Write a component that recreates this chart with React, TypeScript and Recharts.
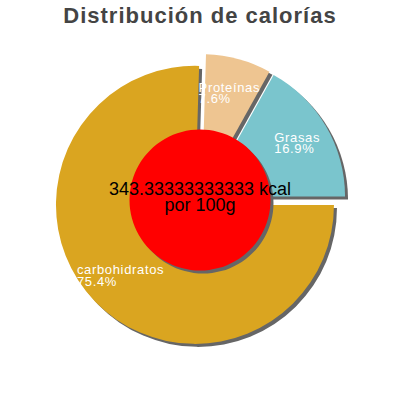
import React from 'react';
import { PieChart, Pie, Cell } from 'recharts';

const title = 'Distribución de calorías';
const categories = ['Grasas', 'Proteínas', 'carbohidratos'];
const shares = [16.9, 7.6, 75.4];
const colors = ['#7AC5CD', '#EEC591', '#DAA520'];
const kcalValue = 343.33333333333;
const centerLines = ['343.33333333333 kcal', 'por 100g'];

const EXPLODE = 7;
const SHADOW = 'drop-shadow(3px 3px 0px #666666)';
const FONT = '"Liberation Sans", Arial, sans-serif';

const data = categories.map((name, i) => ({ name, value: shares[i] }));
const centerData = [{ name: 'kcal', value: kcalValue }];

const total = shares.reduce((a, b) => a + b, 0);
const offsets = (() => {
  let cum = 0;
  return shares.map((v) => {
    const mid = ((cum + v / 2) / total) * 2 * Math.PI;
    cum += v;
    return { dx: EXPLODE * Math.cos(mid), dy: -EXPLODE * Math.sin(mid) };
  });
})();

const renderSliceLabel = (props: any) => {
  const { cx, cy, midAngle, outerRadius, name, value } = props;
  const rad = (midAngle * Math.PI) / 180;
  const r = outerRadius * 0.74 + EXPLODE;
  const ax = cx + r * Math.cos(rad);
  const ay = cy - r * Math.sin(rad);
  const w = String(name).length * 6.8;
  const x0 = ax - w / 2;
  return (
    <text
      x={x0}
      y={ay - 2.5}
      fill="#ffffff"
      fontSize={13}
      fontFamily={FONT}
      letterSpacing={0.65}
      textAnchor="start"
    >
      <tspan x={x0}>{name}</tspan>
      <tspan x={x0} dy={11.5}>{Number(value).toFixed(1)}%</tspan>
    </text>
  );
};

const renderCenterLabel = (props: any) => {
  const { cx, cy } = props;
  return (
    <text x={cx} y={cy - 5} fill="#000000" fontSize={18} fontFamily={FONT} textAnchor="middle">
      <tspan x={cx}>{centerLines[0]}</tspan>
      <tspan x={cx} dy={16}>{centerLines[1]}</tspan>
    </text>
  );
};

export default function App() {
  return (
    <div style={{ position: 'absolute', left: 0, top: 0, width: 400, height: 400, background: '#fff' }}>
      <div
        style={{
          position: 'absolute',
          left: 0,
          top: 5,
          width: 400,
          textAlign: 'center',
          fontFamily: FONT,
          fontWeight: 'bold',
          fontSize: 22,
          lineHeight: '22px',
          letterSpacing: '1px',
          color: '#444444',
        }}
      >
        {title}
      </div>
      <div style={{ position: 'absolute', left: 0, top: 0 }}>
        <PieChart width={400} height={400} margin={{ top: 0, right: 0, bottom: 0, left: 0 }}>
          <Pie
            data={data}
            dataKey="value"
            nameKey="name"
            cx={200}
            cy={200}
            innerRadius={0}
            outerRadius={139}
            startAngle={0}
            endAngle={360}
            stroke="none"
            isAnimationActive={false}
            label={renderSliceLabel}
            labelLine={false}
          >
            {data.map((d, i) => (
              <Cell
                key={d.name}
                fill={colors[i]}
                style={{
                  transform: `translate(${offsets[i].dx}px, ${offsets[i].dy}px)`,
                  filter: SHADOW,
                }}
              />
            ))}
          </Pie>
          <Pie
            data={centerData}
            dataKey="value"
            nameKey="name"
            cx={200}
            cy={200}
            innerRadius={0}
            outerRadius={70.5}
            startAngle={0}
            endAngle={360}
            stroke="none"
            isAnimationActive={false}
            label={renderCenterLabel}
            labelLine={false}
          >
            <Cell fill="#FF0000" style={{ filter: SHADOW }} />
          </Pie>
        </PieChart>
      </div>
    </div>
  );
}
